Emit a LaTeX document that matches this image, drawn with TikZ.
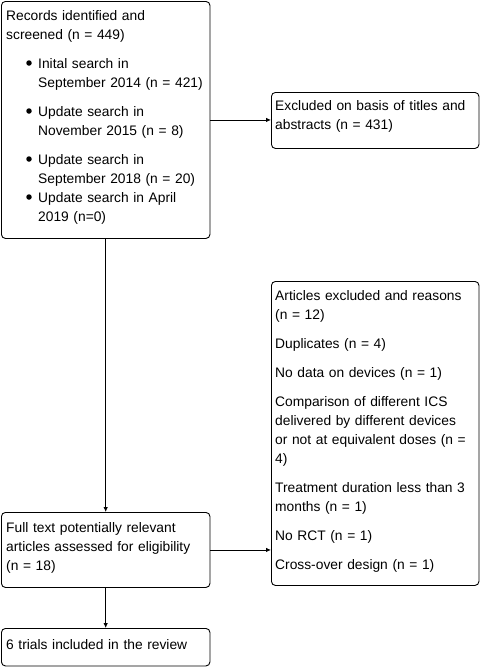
\documentclass[tikz,border=0pt]{standalone}
\usepackage{fontspec}
\setmainfont{Liberation Sans}
\usetikzlibrary{arrows.meta}
\begin{document}
\begin{tikzpicture}[x=1pt,y=-1pt,
  box/.style={draw, line width=0.9pt, rounded corners=4pt, inner sep=0pt, anchor=north west},
  txt/.style={anchor=base west, inner sep=0pt, align=left, text width=#1, font=\fontsize{13.8}{19}\selectfont},
  arr/.style={line width=0.9pt, -{Latex[length=5pt,width=4.5pt]}},
  dot/.style={circle, fill, inner sep=0pt, minimum size=5.5pt}]
\useasboundingbox (0,0) rectangle (481,667);
% boxes
\node[box, minimum width=208.5pt, minimum height=237pt] (b1) at (1,1) {};
\node[box, minimum width=207.5pt, minimum height=56pt] (b2) at (271,92) {};
\node[box, minimum width=207.5pt, minimum height=304pt] (b3) at (271,281) {};
\node[box, minimum width=208.5pt, minimum height=75pt] (b4) at (1,512) {};
\node[box, minimum width=208.5pt, minimum height=37.5pt] (b5) at (1,628) {};
% box 1 text
\node[txt=200pt] (t1) at (6,20) {Records identified and\\screened (n = 449)};
\node[dot] (d1) at (29,63) {};
\node[txt=170pt] (i1) at (38,68) {Inital search in\\September 2014 (n = 421)};
\node[dot] (d2) at (29,111) {};
\node[txt=170pt] (i2) at (38,116) {Update search in\\November 2015 (n = 8)};
\node[dot] (d3) at (29,159) {};
\node[txt=170pt] (i3) at (38,164) {Update search in\\September 2018 (n = 20)};
\node[dot] (d4) at (29,197) {};
\node[txt=170pt] (i4) at (38,202) {Update search in April\\2019 (n=0)};
% box 2 text
\node[txt=200pt] (t2) at (275,110) {Excluded on basis of titles and\\abstracts (n = 431)};
% box 3 text
\node[txt=200pt] (t3) at (275,300) {Articles excluded and reasons\\(n = 12)\\[10pt]
Duplicates (n = 4)\\[10pt]
No data on devices (n = 1)\\[10pt]
Comparison of different ICS\\delivered by different devices\\or not at equivalent doses (n =\\4)\\[10pt]
Treatment duration less than 3\\months (n = 1)\\[10pt]
No RCT (n = 1)\\[10pt]
Cross-over design (n = 1)};
% box 4 text
\node[txt=200pt] (t4) at (6,532) {Full text potentially relevant\\articles assessed for eligibility\\(n = 18)};
% box 5 text
\node[txt=200pt] (t5) at (6,649) {6 trials included in the review};
% connectors
\draw[arr] (b1.south) -- (b4.north);
\draw[arr] (b1.east) -- (b1.east -| b2.west);
\draw[arr] (b4.east) -- (b4.east -| b3.west);
\draw[arr] (b4.south) -- (b5.north);
\end{tikzpicture}
\end{document}
